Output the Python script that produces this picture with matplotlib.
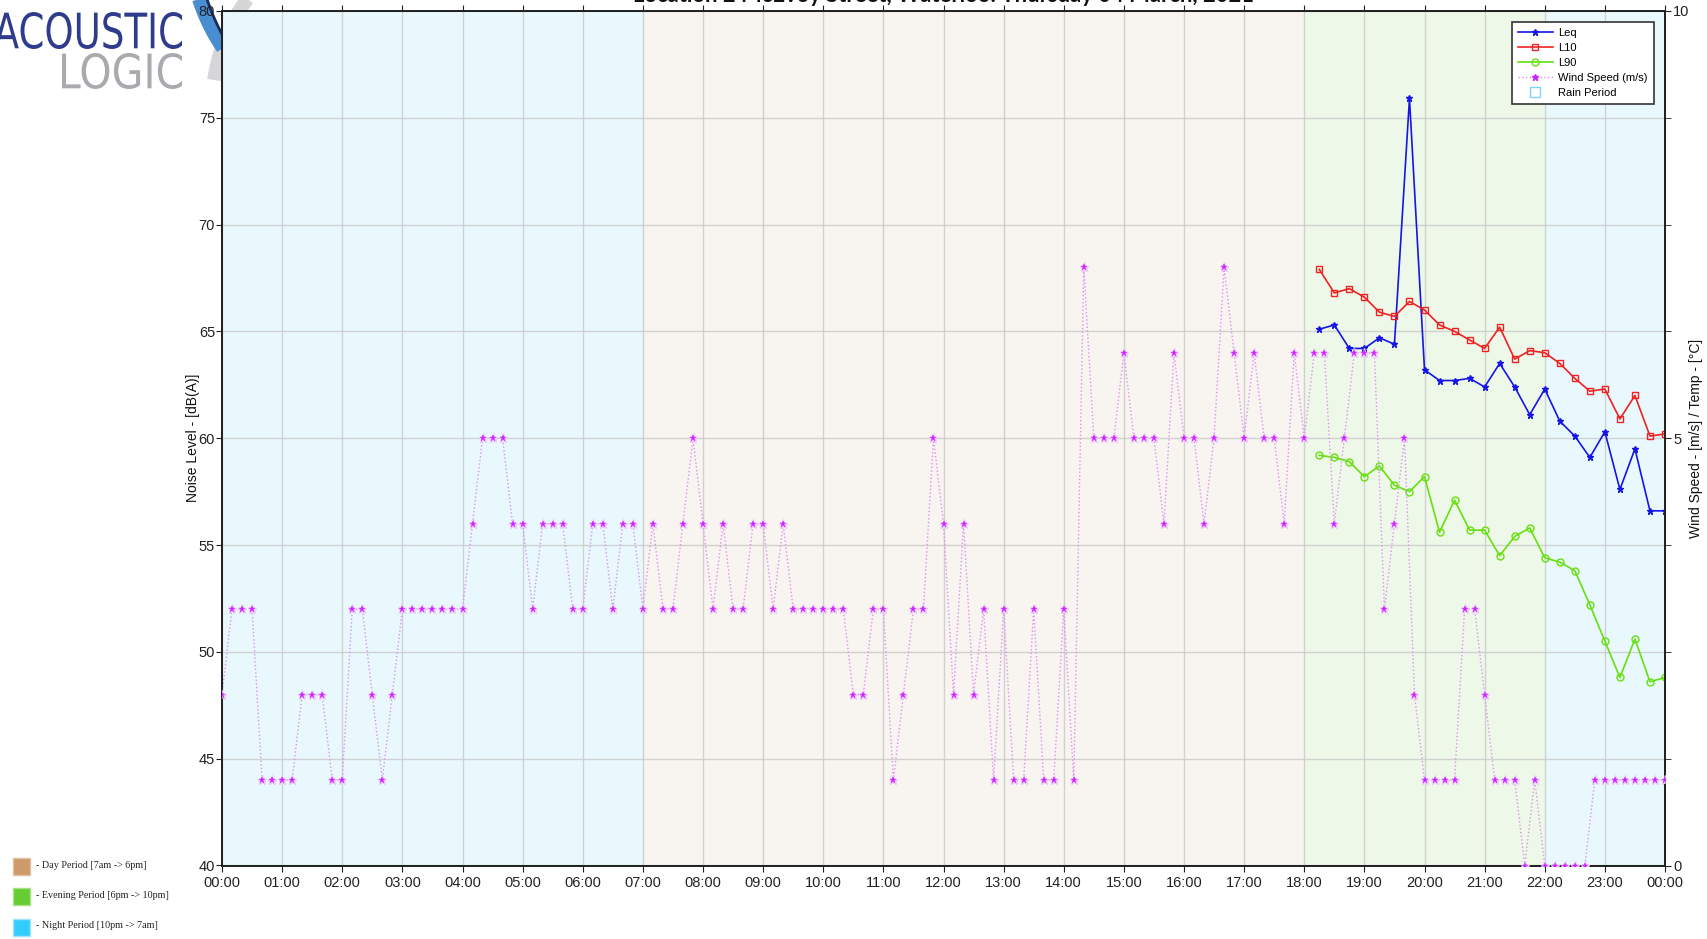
import matplotlib
matplotlib.use('Agg')
import matplotlib.pyplot as plt
import numpy as np
from matplotlib.lines import Line2D
from matplotlib.patches import PathPatch, Rectangle
from matplotlib.textpath import TextPath
from matplotlib.font_manager import FontProperties
from matplotlib.transforms import Affine2D
from matplotlib.ticker import MultipleLocator, FixedLocator

W, H = 1707, 939

# Wind speed (m/s), every 10 minutes from 00:00 to 23:50
wind = [2, 3, 3, 3, 1, 1, 1, 1, 2, 2, 2, 1, 1, 3, 3, 2, 1, 2,
        3, 3, 3, 3, 3, 3, 3, 4, 5, 5, 5, 4, 4, 3, 4, 4, 4, 3, 3, 4,
        4, 3, 4, 4, 3, 4, 3, 3, 4, 5, 4, 3, 4, 3, 3, 4, 4, 3, 4, 3,
        3, 3, 3, 3, 3, 2, 2, 3, 3, 1, 2, 3, 3, 5, 4, 2, 4, 2, 3, 1,
        3, 1, 1, 3, 1, 1, 3, 1, 7, 5, 5, 5, 6, 5, 5, 5, 4, 6, 5, 5,
        4, 5, 7, 6, 5, 6, 5, 5, 4, 6, 5, 6, 6, 4, 5, 6, 6, 6, 3, 4,
        5, 2, 1, 1, 1, 1, 3, 3, 2, 1, 1, 1, 0, 1, 0, 0, 0, 0, 0, 1,
        1, 1, 1, 1, 1, 1, 1]
wind_hours = np.arange(len(wind)) / 6.0

# Noise levels, 15 minute intervals from 18:15 to 24:00
leq = [65.1, 65.3, 64.2, 64.2, 64.7, 64.4, 75.9, 63.2, 62.7, 62.7, 62.8, 62.4,
       63.5, 62.4, 61.1, 62.3, 60.8, 60.1, 59.1, 60.3, 57.6, 59.5, 56.6, 56.6]
l10 = [67.9, 66.8, 67.0, 66.6, 65.9, 65.7, 66.4, 66.0, 65.3, 65.0, 64.6, 64.2,
       65.2, 63.7, 64.1, 64.0, 63.5, 62.8, 62.2, 62.3, 60.9, 62.0, 60.1, 60.2]
l90 = [59.2, 59.1, 58.9, 58.2, 58.7, 57.8, 57.5, 58.2, 55.6, 57.1, 55.7, 55.7,
       54.5, 55.4, 55.8, 54.4, 54.2, 53.8, 52.2, 50.5, 48.8, 50.6, 48.6, 48.8]
noise_hours = 18.25 + np.arange(len(leq)) * 0.25

hour_ticks = list(range(25))
hour_labels = ['%02d:00' % (h % 24) for h in hour_ticks]

# period shading (start, end, colour)
periods = [(0, 7, '#E8F8FD'), (7, 18, '#F8F4F0'), (18, 22, '#EEF8E8'), (22, 24, '#E8F8FD')]

fig = plt.figure(figsize=(W / 100, H / 100), dpi=100)
fig.patch.set_facecolor('white')

# --- logo swoosh (behind axes)
def curve(p0, p1, p2, n=40):
    t = np.linspace(0, 1, n)
    x = (1 - t) ** 2 * p0[0] + 2 * (1 - t) * t * p1[0] + t ** 2 * p2[0]
    y = (1 - t) ** 2 * p0[1] + 2 * (1 - t) * t * p1[1] + t ** 2 * p2[1]
    return x / W, 1 - y / H

gx, gy = curve((250, -4), (222, 30), (214, 80))
fig.add_artist(Line2D(gx, gy, color='#D6D6D9', lw=10, solid_capstyle='butt',
                      transform=fig.transFigure, zorder=-2))
bx, by = curve((198, -4), (207, 25), (223, 48))
fig.add_artist(Line2D(bx, by, color='#4A8ED2', lw=10, solid_capstyle='butt',
                      transform=fig.transFigure, zorder=-1))
nx, ny = curve((206, -4), (213, 18), (224, 38))
fig.add_artist(Line2D(nx, ny, color='#1E2A5A', lw=2, solid_capstyle='butt',
                      transform=fig.transFigure, zorder=-1))

ax = fig.add_axes([222 / W, 1 - 865.5 / H, (1665 - 222) / W, (865.5 - 10.9) / H])
ax2 = ax.twinx()

for start, end, col in periods:
    ax.axvspan(start, end, color=col, lw=0, zorder=0)

ax.plot(noise_hours, leq, color='#1515E6', lw=1.2, marker='*', ms=5, zorder=3)
ax.plot(noise_hours, l10, color='#EE2222', lw=1.2, marker='s', ms=4,
        mfc='none', mec='#EE2222', zorder=3)
ax.plot(noise_hours, l90, color='#66E010', lw=1.2, marker='o', ms=5,
        mfc='none', mec='#66E010', zorder=3)

ax2.plot(wind_hours, wind, color='#DC90F2', lw=1, ls=':', zorder=2)
ax2.plot(wind_hours, wind, color='#EDC6FA', lw=0, marker='*', ms=6.5, zorder=3)
ax2.plot(wind_hours, wind, color='#CC22FF', lw=0, marker='*', ms=4.5,
         mec='#CC22FF', mew=0.3, zorder=4)

ax.set_xlim(0, 24)
ax.set_ylim(40, 80)
ax2.set_ylim(0, 10)
ax.set_xticks(hour_ticks)
ax.set_xticklabels(hour_labels)
ax.yaxis.set_major_locator(MultipleLocator(5))
ax2.yaxis.set_major_locator(FixedLocator([0, 5, 10]))
ax2.yaxis.set_minor_locator(MultipleLocator(1.25))

ax.grid(True, color='#C9C9C9', lw=1, alpha=0.8, zorder=1)
ax.set_axisbelow(True)

tfont = 'Liberation Sans'
ax.tick_params(axis='x', top=True, direction='out', length=4, labelsize=10.5,
               colors='#222222', labelfontfamily=tfont)
ax.tick_params(axis='y', direction='out', length=4, labelsize=10.5,
               colors='#222222', labelfontfamily=tfont, pad=1)
ax2.tick_params(axis='y', which='both', direction='out', length=4, labelsize=10.5,
                colors='#222222', labelfontfamily=tfont, pad=2)
for a in (ax, ax2):
    for s in a.spines.values():
        s.set_color('#222222')
        s.set_linewidth(1.3)

# axis titles placed where the original export has them
fig.text(193 / W, 1 - 438 / H, 'Noise Level - [dB(A)]', rotation=90, fontsize=10,
         family=tfont, ha='center', va='center', color='#111111')
fig.text(1696 / W, 1 - 438 / H, 'Wind Speed - [m/s] / Temp - [°C]', rotation=90,
         fontsize=10, family=tfont, ha='center', va='center', color='#111111')

# legend
handles = [
    Line2D([], [], color='#1515E6', lw=1.2, marker='*', ms=5),
    Line2D([], [], color='#EE2222', lw=1.2, marker='s', ms=4, mfc='none'),
    Line2D([], [], color='#66E010', lw=1.2, marker='o', ms=5, mfc='none'),
    Line2D([], [], color='#DC90F2', lw=1, ls=':', marker='*', ms=5,
           mfc='#CC22FF', mec='#CC22FF'),
    Line2D([], [], lw=0, marker='s', ms=7, mfc='none', mec='#7FD4FF'),
]
labels = ['Leq', 'L10', 'L90', 'Wind Speed (m/s)', 'Rain Period']
leg = ax2.legend(handles, labels, loc='upper right', bbox_to_anchor=(0.9922, 0.987),
                 borderaxespad=0, fancybox=False, edgecolor='#333333', framealpha=1,
                 prop={'family': tfont, 'size': 8}, handlelength=3.1,
                 labelspacing=0.45, borderpad=0.55, handletextpad=0.5)
leg.get_frame().set_linewidth(1.2)

# title, cut at the top edge as in the original export
fig.text(943.5 / W, 1 - 2 / H, 'Location 2 McEvoy Street, Waterloo: Thursday 04 March, 2021',
         ha='center', va='baseline', fontsize=15.8, fontweight='bold', family='Lato',
         color='#111111')

# logo text, squeezed to the original proportions
def logo_text(s, x0, y0, x1, y1, color):
    tp = TextPath((0, 0), s, size=1, prop=FontProperties(family='DejaVu Sans'))
    bb = tp.get_extents()
    fx0, fx1 = x0 / W, x1 / W
    fy0, fy1 = 1 - y1 / H, 1 - y0 / H
    tr = (Affine2D().translate(-bb.x0, -bb.y0)
          .scale((fx1 - fx0) / bb.width, (fy1 - fy0) / bb.height)
          .translate(fx0, fy0)) + fig.transFigure
    fig.add_artist(PathPatch(tp, transform=tr, facecolor=color, edgecolor='none'))

logo_text('ACOUSTIC', -6, 12, 182, 49, '#2F3C8C')
logo_text('LOGIC', 62, 53, 182, 89, '#A9AAAE')

# period key, bottom left
key = [('- Day Period [7am -> 6pm]', '#CD9B69', '#E0C0A0', 858),
       ('- Evening Period [6pm -> 10pm]', '#66CC33', '#A8E088', 888),
       ('- Night Period [10pm -> 7am]', '#33CCFF', '#A0E4FF', 919)]
for txt, col, edge, ytop in key:
    fig.add_artist(Rectangle((13 / W, 1 - (ytop + 17) / H), 17 / W, 17 / H,
                             facecolor=col, edgecolor=edge, lw=1,
                             transform=fig.transFigure))
    fig.text(36 / W, 1 - (ytop + 7) / H, txt, fontsize=7.3, family='Liberation Serif',
             va='center', ha='left', color='#222222')

fig.savefig('out.png', dpi=100, facecolor='white')
